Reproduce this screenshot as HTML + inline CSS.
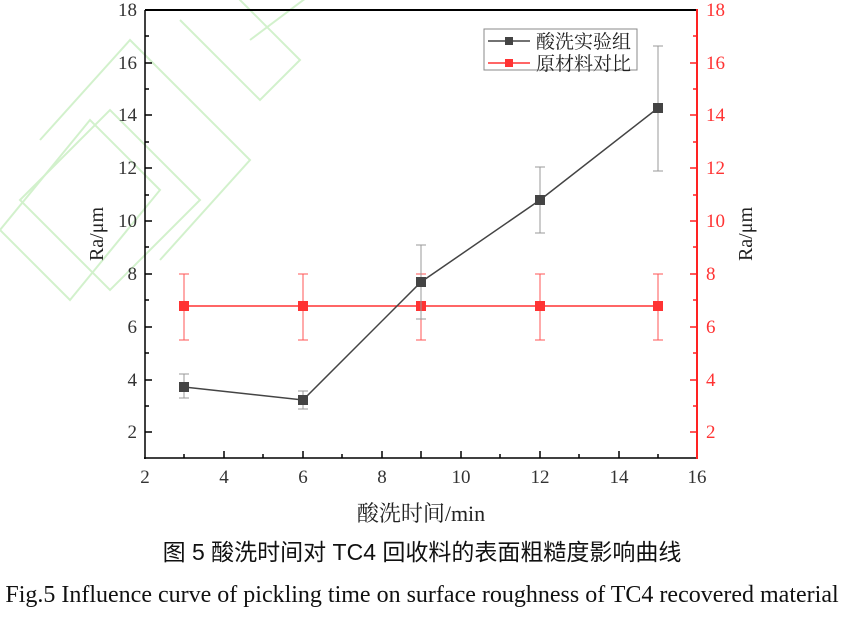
<!DOCTYPE html>
<html><head><meta charset="utf-8"><style>
body{margin:0;background:#fff;width:844px;height:612px;overflow:hidden}
text{font-family:"Liberation Serif","Noto Serif CJK SC",serif}
</style></head><body>
<svg width="844" height="612" viewBox="0 0 844 612" xmlns="http://www.w3.org/2000/svg">
<g fill="none" stroke="#c8eec0" stroke-width="2" opacity="0.8">
<path d="M0 230 L90 120 L160 190 L70 300 Z"/>
<path d="M40 140 L130 40 L250 160 L160 260"/>
<path d="M180 20 L260 100 L300 60 L230 -10"/>
<path d="M250 40 L330 -20"/>
<path d="M20 200 L110 110 L200 200 L110 290 Z"/>
</g>
<g stroke="#000" stroke-width="1.5">
<line x1="145" y1="10" x2="145" y2="459"/>
<line x1="144" y1="458" x2="697" y2="458"/>
<line x1="145" y1="10" x2="697" y2="10" stroke-width="2"/>
</g>
<line x1="697" y1="9" x2="697" y2="459" stroke="#f22" stroke-width="2"/>
<g stroke="#000" stroke-width="1.5">
<line x1="224" y1="458" x2="224" y2="451"/><line x1="303" y1="458" x2="303" y2="451"/>
<line x1="421" y1="458" x2="421" y2="451"/><line x1="540" y1="458" x2="540" y2="451"/>
<line x1="619" y1="458" x2="619" y2="451"/>
<line x1="184" y1="458" x2="184" y2="454"/><line x1="263" y1="458" x2="263" y2="454"/>
<line x1="342" y1="458" x2="342" y2="454"/><line x1="382" y1="458" x2="382" y2="451"/>
<line x1="461" y1="458" x2="461" y2="451"/><line x1="500" y1="458" x2="500" y2="454"/>
<line x1="579" y1="458" x2="579" y2="454"/><line x1="658" y1="458" x2="658" y2="454"/>
<line x1="145" y1="432" x2="152" y2="432"/><line x1="145" y1="380" x2="152" y2="380"/>
<line x1="145" y1="327" x2="152" y2="327"/><line x1="145" y1="274" x2="152" y2="274"/>
<line x1="145" y1="221" x2="152" y2="221"/><line x1="145" y1="168" x2="152" y2="168"/>
<line x1="145" y1="115" x2="152" y2="115"/><line x1="145" y1="63" x2="152" y2="63"/>
<line x1="145" y1="406" x2="149" y2="406"/><line x1="145" y1="353" x2="149" y2="353"/>
<line x1="145" y1="300" x2="149" y2="300"/><line x1="145" y1="247" x2="149" y2="247"/>
<line x1="145" y1="195" x2="149" y2="195"/><line x1="145" y1="142" x2="149" y2="142"/>
<line x1="145" y1="89" x2="149" y2="89"/><line x1="145" y1="36" x2="149" y2="36"/>
</g>
<g stroke="#f22" stroke-width="1.5">
<line x1="697" y1="432" x2="690" y2="432"/><line x1="697" y1="380" x2="690" y2="380"/>
<line x1="697" y1="327" x2="690" y2="327"/><line x1="697" y1="274" x2="690" y2="274"/>
<line x1="697" y1="221" x2="690" y2="221"/><line x1="697" y1="168" x2="690" y2="168"/>
<line x1="697" y1="115" x2="690" y2="115"/><line x1="697" y1="63" x2="690" y2="63"/>
<line x1="697" y1="406" x2="693" y2="406"/><line x1="697" y1="353" x2="693" y2="353"/>
<line x1="697" y1="300" x2="693" y2="300"/><line x1="697" y1="247" x2="693" y2="247"/>
<line x1="697" y1="195" x2="693" y2="195"/><line x1="697" y1="142" x2="693" y2="142"/>
<line x1="697" y1="89" x2="693" y2="89"/><line x1="697" y1="36" x2="693" y2="36"/>
</g>
<g font-size="19" fill="#333" text-anchor="middle">
<text x="145" y="483">2</text><text x="224" y="483">4</text><text x="303" y="483">6</text>
<text x="382" y="483">8</text><text x="461" y="483">10</text><text x="540" y="483">12</text>
<text x="619" y="483">14</text><text x="697" y="483">16</text>
</g>
<g font-size="19" fill="#333" text-anchor="end">
<text x="137" y="438">2</text><text x="137" y="386">4</text><text x="137" y="333">6</text>
<text x="137" y="280">8</text><text x="137" y="227">10</text><text x="137" y="174">12</text>
<text x="137" y="121">14</text><text x="137" y="69">16</text><text x="137" y="16">18</text>
</g>
<g font-size="19" fill="#f33">
<text x="706" y="438">2</text><text x="706" y="386">4</text><text x="706" y="333">6</text>
<text x="706" y="280">8</text><text x="706" y="227">10</text><text x="706" y="174">12</text>
<text x="706" y="121">14</text><text x="706" y="69">16</text><text x="706" y="16">18</text>
</g>
<text x="103" y="234" font-size="20" fill="#222" text-anchor="middle" transform="rotate(-90 103 234)">Ra/μm</text>
<text x="752" y="234" font-size="20" fill="#222" text-anchor="middle" transform="rotate(-90 752 234)">Ra/μm</text>
<text x="421" y="521" font-size="22" fill="#222" text-anchor="middle">酸洗时间/min</text>
<g stroke="#f55" stroke-width="1">
<line x1="184" y1="274" x2="184" y2="340"/><line x1="179" y1="274" x2="189" y2="274"/><line x1="179" y1="340" x2="189" y2="340"/>
<line x1="303" y1="274" x2="303" y2="340"/><line x1="298" y1="274" x2="308" y2="274"/><line x1="298" y1="340" x2="308" y2="340"/>
<line x1="421" y1="274" x2="421" y2="340"/><line x1="416" y1="274" x2="426" y2="274"/><line x1="416" y1="340" x2="426" y2="340"/>
<line x1="540" y1="274" x2="540" y2="340"/><line x1="535" y1="274" x2="545" y2="274"/><line x1="535" y1="340" x2="545" y2="340"/>
<line x1="658" y1="274" x2="658" y2="340"/><line x1="653" y1="274" x2="663" y2="274"/><line x1="653" y1="340" x2="663" y2="340"/>
</g>
<polyline points="184,306 303,306 421,306 540,306 658,306" fill="none" stroke="#f33" stroke-width="1.5"/>
<g fill="#f33">
<rect x="179" y="301" width="10" height="10"/><rect x="298" y="301" width="10" height="10"/>
<rect x="416" y="301" width="10" height="10"/><rect x="535" y="301" width="10" height="10"/>
<rect x="653" y="301" width="10" height="10"/>
</g>
<g stroke="#999" stroke-width="1">
<line x1="184" y1="374" x2="184" y2="398"/><line x1="179" y1="374" x2="189" y2="374"/><line x1="179" y1="398" x2="189" y2="398"/>
<line x1="303" y1="391" x2="303" y2="409"/><line x1="298" y1="391" x2="308" y2="391"/><line x1="298" y1="409" x2="308" y2="409"/>
<line x1="421" y1="245" x2="421" y2="319"/><line x1="416" y1="245" x2="426" y2="245"/><line x1="416" y1="319" x2="426" y2="319"/>
<line x1="540" y1="167" x2="540" y2="233"/><line x1="535" y1="167" x2="545" y2="167"/><line x1="535" y1="233" x2="545" y2="233"/>
<line x1="658" y1="46" x2="658" y2="171"/><line x1="653" y1="46" x2="663" y2="46"/><line x1="653" y1="171" x2="663" y2="171"/>
</g>
<polyline points="184,387 303,400 421,282 540,200 658,108" fill="none" stroke="#444" stroke-width="1.5"/>
<g fill="#444">
<rect x="179" y="382" width="10" height="10"/><rect x="298" y="395" width="10" height="10"/>
<rect x="416" y="277" width="10" height="10"/><rect x="535" y="195" width="10" height="10"/>
<rect x="653" y="103" width="10" height="10"/>
</g>
<rect x="484" y="29" width="153" height="41" fill="#fff" stroke="#888" stroke-width="1"/>
<line x1="488" y1="41" x2="530" y2="41" stroke="#444" stroke-width="1.5"/>
<rect x="505" y="37" width="8" height="8" fill="#444"/>
<line x1="488" y1="63" x2="530" y2="63" stroke="#f33" stroke-width="1.5"/>
<rect x="505" y="59" width="8" height="8" fill="#f33"/>
<text x="536" y="48" font-size="19" fill="#222">酸洗实验组</text>
<text x="536" y="70" font-size="19" fill="#222">原材料对比</text>
<text x="422" y="560" font-size="23" fill="#111" text-anchor="middle" style='font-family:"Liberation Sans","Noto Sans CJK SC",sans-serif'>图 5  酸洗时间对 TC4 回收料的表面粗糙度影响曲线</text>
<text x="422" y="602" font-size="24" fill="#111" text-anchor="middle">Fig.5 Influence curve of pickling time on surface roughness of TC4 recovered material</text>
</svg>
</body></html>
